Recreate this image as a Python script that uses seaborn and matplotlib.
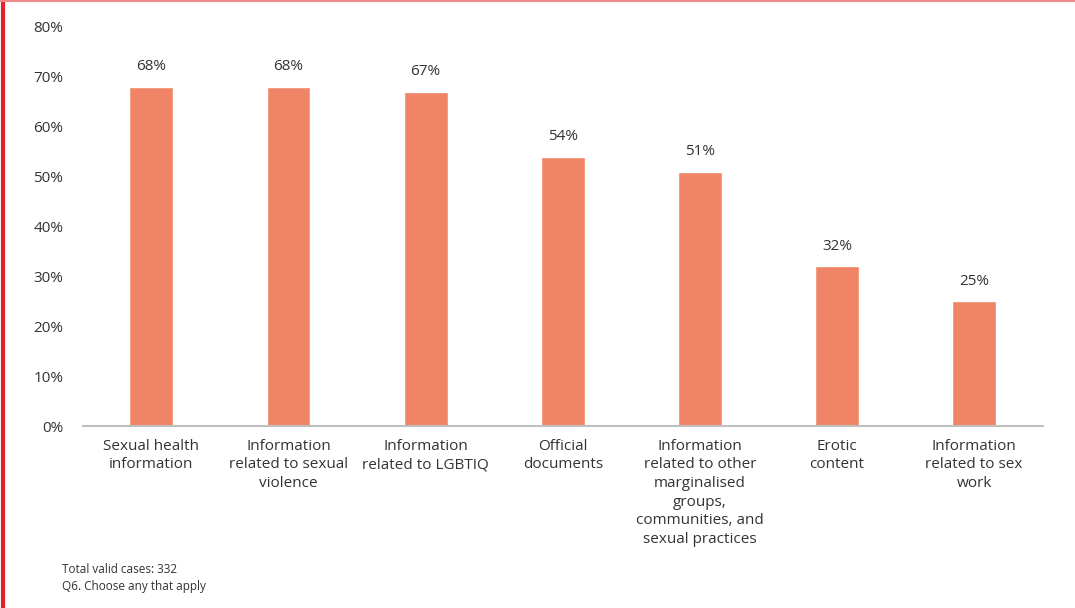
import matplotlib
matplotlib.use("Agg")
import matplotlib.pyplot as plt
from matplotlib.lines import Line2D
import pandas as pd
import seaborn as sns

categories = [
    "Sexual health\ninformation",
    "Information\nrelated to sexual\nviolence",
    "Information\nrelated to LGBTIQ",
    "Official\ndocuments",
    "Information\nrelated to other\nmarginalised\ngroups,\ncommunities, and\nsexual practices",
    "Erotic\ncontent",
    "Information\nrelated to sex\nwork",
]
values = [68, 68, 67, 54, 51, 32, 25]
y_ticks = [0, 10, 20, 30, 40, 50, 60, 70, 80]
notes = ["Total valid cases: 332", "Q6. Choose any that apply"]

sns.set_theme(style="white")
plt.rcParams["font.family"] = ["Open Sans", "DejaVu Sans"]

df = pd.DataFrame({"category": categories, "value": values})

fig = plt.figure(figsize=(10.75, 6.08), dpi=100)
ax = fig.add_axes([0.077, 0.299, 0.893, 0.657])

sns.barplot(data=df, x="category", y="value", color="#EF8467",
            saturation=1, width=0.32, ax=ax)

ax.set_ylim(0, 80)
ax.set_yticks(y_ticks)
ax.set_yticklabels([f"{t}%" for t in y_ticks], fontsize=11, color="#333333")
ax.set_xticks(range(len(categories)))
ax.set_xticklabels(categories, fontsize=11, color="#333333", linespacing=1.33)
ax.tick_params(axis="x", length=0, pad=9)
ax.tick_params(axis="y", length=0, pad=14)
ax.set_xlabel("")
ax.set_ylabel("")
for s in ["top", "right", "left"]:
    ax.spines[s].set_visible(False)
ax.spines["bottom"].set_color("#BFBFBF")
ax.spines["bottom"].set_linewidth(1.5)
ax.set_xlim(-0.5, len(categories) - 0.5)

for c in ax.containers:
    ax.bar_label(c, labels=[f"{v}%" for v in values], padding=9,
                 fontsize=11, color="#333333")

fig.text(0.058, 0.063, notes[0], fontsize=8.5, color="#333333", va="center")
fig.text(0.058, 0.035, notes[1], fontsize=8.5, color="#333333", va="center")

# page frame lines
fig.add_artist(Line2D([0.003, 0.003], [0, 1], transform=fig.transFigure,
                      color="#E3232C", linewidth=3))
fig.add_artist(Line2D([0, 1], [0.999, 0.999], transform=fig.transFigure,
                      color="#F08A8A", linewidth=1.5))

fig.savefig("out.png", dpi=100, facecolor="white")
